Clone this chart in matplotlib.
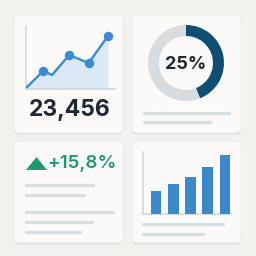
import matplotlib
matplotlib.use('Agg')
import matplotlib.pyplot as plt
from matplotlib.patches import FancyBboxPatch, Polygon

# data
line_x = [0, 1, 1.55, 2.6, 3.8, 5]
line_y = [2, 18, 14, 34, 26, 53]
line_marked = [False, True, False, True, True, True]
kpi_value = "23,456"

donut_shares = [44, 56]
donut_label = "25%"

growth_label = "+15,8%"

bar_values = [23, 30, 37, 47, 59]

BG = '#f2f1ee'
CARD = '#fbfaf8'
BLUE = '#3a8bd3'
FILL = '#dbe9f6'
NAVY = '#0e4e72'
RING = '#d6dce0'
GREEN = '#1f9a6b'
TEXT = '#1d2833'
PLACE = '#d8dde2'
AXIS = '#cfd5da'

W = 256
fig = plt.figure(figsize=(2.56, 2.56), dpi=100, facecolor=BG)
base = fig.add_axes([0, 0, 1, 1])
base.set_xlim(0, W)
base.set_ylim(W, 0)
base.axis('off')


def card(x0, y0, x1, y1):
    sh = FancyBboxPatch((x0, y0 + 1.5), x1 - x0, y1 - y0,
                        boxstyle='round,pad=0,rounding_size=5',
                        fc='#000000', ec='none', alpha=0.07, zorder=1)
    base.add_patch(sh)
    p = FancyBboxPatch((x0, y0), x1 - x0, y1 - y0,
                       boxstyle='round,pad=0,rounding_size=5',
                       fc=CARD, ec='#e9e7e3', lw=0.5, zorder=2)
    base.add_patch(p)


def placeholder(x0, x1, y):
    base.plot([x0, x1], [y, y], color=PLACE, lw=2.3,
              solid_capstyle='round', zorder=3)


def inset(x0, y0, x1, y1):
    a = fig.add_axes([x0 / W, 1 - y1 / W, (x1 - x0) / W, (y1 - y0) / W])
    a.patch.set_alpha(0)
    return a


card(14, 15, 123, 133)
card(132, 15, 241, 133)
card(14, 141, 123, 243)
card(132, 141, 241, 243)

# line chart card
ax1 = inset(25.7, 26, 115, 89)
ax1.fill_between(line_x, line_y, 0, color=FILL, lw=0)
ax1.plot(line_x, line_y, color=BLUE, lw=1.7, zorder=3)
mx = [x for x, m in zip(line_x, line_marked) if m]
my = [y for y, m in zip(line_y, line_marked) if m]
ax1.plot(mx, my, 'o', color=BLUE, ms=5.8, zorder=4)
ax1.set_xlim(-0.08, 5.43)
ax1.set_ylim(0, 63)
for s in ['top', 'right']:
    ax1.spines[s].set_visible(False)
for s in ['left', 'bottom']:
    ax1.spines[s].set_color(AXIS)
    ax1.spines[s].set_linewidth(1.1)
ax1.set_xticks([])
ax1.set_yticks([])
base.text(69.5, 110, kpi_value, ha='center', va='center', fontsize=16.5,
          fontweight='bold', family='Inter', color=TEXT, zorder=5)

# donut card
ax2 = inset(148, 25, 224, 101)
ax2.pie(donut_shares, colors=[NAVY, RING], startangle=90, counterclock=False,
        radius=1, wedgeprops=dict(width=0.29, edgecolor='none'))
ax2.set_xlim(-1, 1)
ax2.set_ylim(-1, 1)
ax2.text(0, -0.04, donut_label, ha='center', va='center', fontsize=13,
         fontweight='bold', family='Inter', color=TEXT)
placeholder(144, 229, 113)
placeholder(144, 210, 121.5)

# growth card
base.add_patch(Polygon([[26, 170], [36.5, 157], [47, 170]], closed=True,
                       fc=GREEN, ec='none', zorder=5))
base.text(47, 163.5, growth_label, ha='left', va='center', fontsize=13.5,
          family='Inter', fontweight='semibold', color=GREEN, zorder=5)
placeholder(26, 93, 185.3)
placeholder(26, 84, 194.7)
placeholder(26, 113, 212.3)
placeholder(26, 92, 221.7)
placeholder(26, 80, 231.7)

# bar chart card
ax4 = inset(143, 152, 231, 214)
ax4.bar(range(len(bar_values)), bar_values, width=0.62, color='#3b88cb', zorder=3)
ax4.set_xlim(-0.754, 4.35)
ax4.set_ylim(0, 62)
for s in ['top', 'right']:
    ax4.spines[s].set_visible(False)
for s in ['left', 'bottom']:
    ax4.spines[s].set_color(AXIS)
    ax4.spines[s].set_linewidth(1.1)
ax4.set_xticks([])
ax4.set_yticks([])
placeholder(143, 223, 224.3)
placeholder(143, 203, 233.7)

fig.savefig('out.png', dpi=100, facecolor=BG)
